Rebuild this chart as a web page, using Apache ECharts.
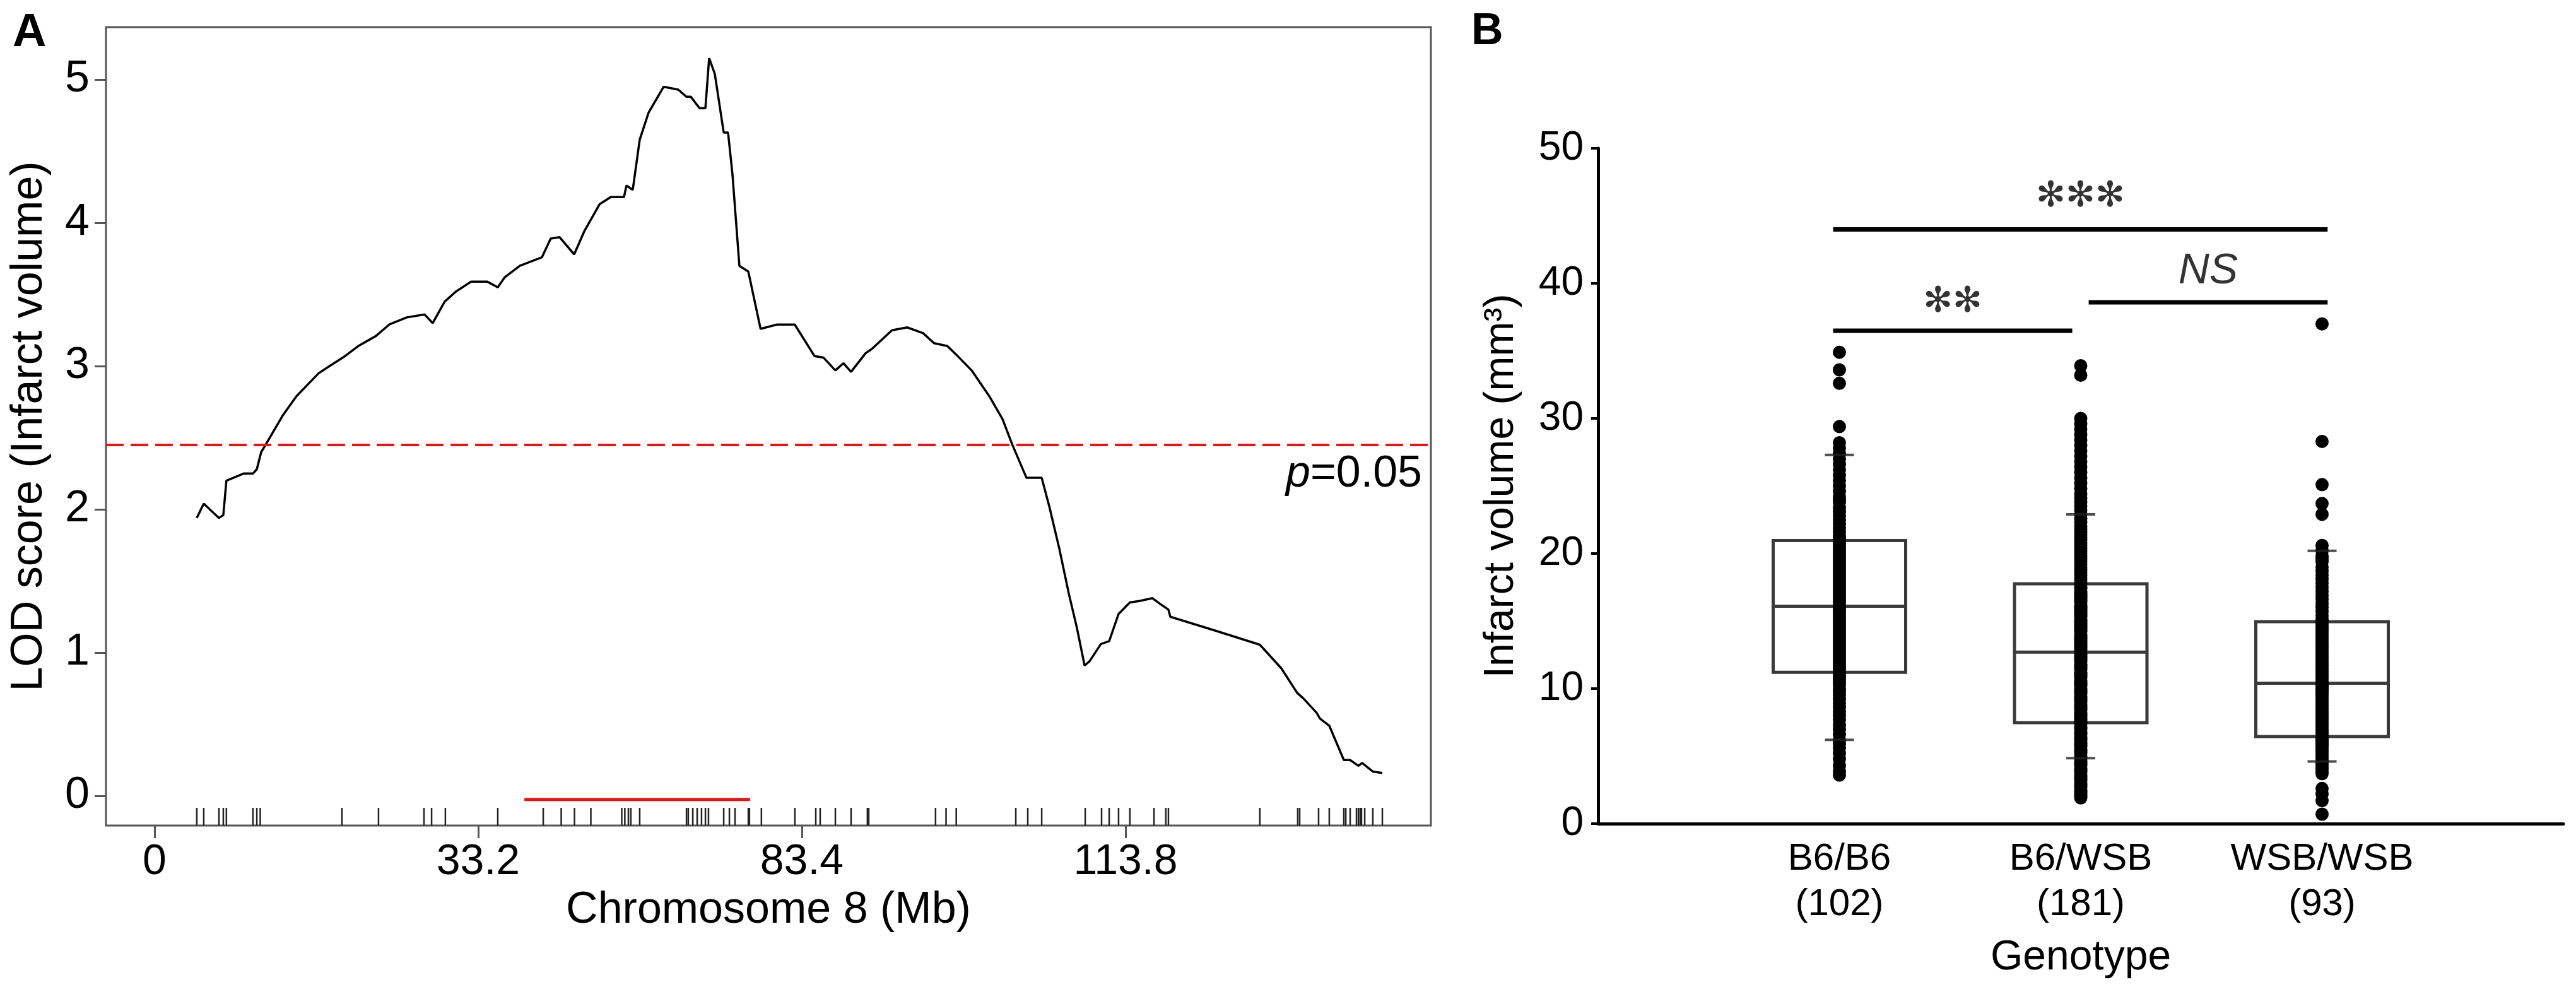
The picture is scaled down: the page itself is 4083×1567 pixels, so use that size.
<!DOCTYPE html>
<html>
<head>
  <meta charset="utf-8" />
  <title>LOD and infarct volume</title>
  <script src="https://cdn.jsdelivr.net/npm/echarts@6/dist/echarts.min.js"></script>
  <style>
    html, body { margin: 0; padding: 0; background: #fff; }
    #main { width: 4083px; height: 1567px; }
  </style>
</head>
<body>
  <div id="main"></div>
  <script type="text/javascript">
    // ---- Panel A: LOD scan on chromosome 8 (x in map units, labelled in Mb) ----
    const lodPos = [2.61, 3.04, 3.98, 4.25, 4.44, 5.50, 6.08, 6.32, 6.59, 6.86, 7.95, 8.77, 10.14, 10.68, 11.77, 12.59,
      13.68, 14.50, 15.59, 16.69, 17.19, 17.93, 18.62, 19.57, 20.55, 21.21, 21.64, 22.57, 23.94, 24.48, 25.03, 25.93,
      26.55, 27.50, 28.19, 29.01, 29.16, 29.55, 29.98, 30.53, 31.46, 32.36, 32.87, 33.14, 33.68, 34.04, 34.27, 34.62,
      35.17, 35.44, 35.71, 36.14, 36.69, 37.45, 38.46, 39.56, 40.78, 41.33, 42.07, 42.57, 43.04, 43.94, 44.33, 45.57,
      46.51, 47.49, 48.17, 48.99, 49.54, 50.49, 51.58, 52.40, 53.01, 53.88, 54.82, 55.29, 55.90, 56.49, 57.00, 57.47,
      57.78, 58.48, 58.99, 59.57, 60.27, 60.86, 61.66, 62.14, 62.65, 62.77, 65.65, 68.30, 69.63, 70.60, 70.99, 71.81,
      72.01, 72.59, 73.49, 73.88, 74.39, 74.62, 75.28, 75.87];
    const lodVal = [1.94, 2.04, 1.94, 1.96, 2.20, 2.25, 2.25, 2.28, 2.40, 2.45, 2.66, 2.79, 2.95, 2.99, 3.07, 3.14,
      3.21, 3.29, 3.34, 3.36, 3.30, 3.45, 3.52, 3.59, 3.59, 3.55, 3.62, 3.70, 3.76, 3.89, 3.90, 3.78,
      3.94, 4.13, 4.18, 4.18, 4.26, 4.23, 4.58, 4.77, 4.95, 4.93, 4.88, 4.88, 4.80, 4.80, 5.15, 5.04,
      4.63, 4.63, 4.34, 3.70, 3.66, 3.26, 3.29, 3.29, 3.07, 3.06, 2.97, 3.02, 2.96, 3.09, 3.12, 3.25,
      3.27, 3.23, 3.16, 3.14, 3.08, 2.97, 2.79, 2.63, 2.45, 2.22, 2.22, 2.02, 1.73, 1.415, 1.17, 0.91,
      0.94, 1.06, 1.08, 1.27, 1.35, 1.36, 1.38, 1.34, 1.30, 1.25, 1.15, 1.055, 0.89, 0.72, 0.68, 0.58,
      0.54, 0.49, 0.25, 0.25, 0.21, 0.23, 0.17, 0.16];
    const markerPos = [2.61, 3.04, 3.98, 4.25, 4.44, 6.08, 6.32, 6.53, 11.58, 13.84, 16.65, 17.12, 17.97, 21.21, 24.02,
      25.13, 25.95, 26.96, 28.87, 29.06, 29.28, 29.43, 29.98, 32.87, 32.98, 33.26, 33.53, 33.80, 34.04, 34.23, 35.17,
      35.52, 35.87, 36.69, 36.76, 37.50, 39.57, 40.86, 41.13, 42.07, 43.04, 44.05, 44.13, 48.26, 48.91, 49.54, 53.22,
      53.96, 54.82, 57.51, 58.52, 58.99, 59.57, 60.27, 61.76, 62.49, 62.65, 68.30, 70.64, 70.76, 71.93, 72.59, 73.49,
      73.61, 73.88, 74.27, 74.39, 74.50, 74.58, 74.78, 75.28, 75.87];
    const chrTickPos = [0, 20, 40, 60];
    const chrTickMb = ['0', '33.2', '83.4', '113.8'];
    const lodTicks = [0, 1, 2, 3, 4, 5];
    const threshold = 2.45;
    const ciRange = [22.85, 36.80];
    const ciLod = -0.025;

    // ---- Panel B: infarct volume by genotype ----
    const genotypes = ['B6/B6', 'B6/WSB', 'WSB/WSB'];
    const counts = [102, 181, 93];
    const boxQ1 = [11.2, 7.48, 6.45];
    const boxMed = [16.1, 12.7, 10.4];
    const boxQ3 = [20.96, 17.76, 14.95];
    const capLow = [6.2, 4.85, 4.6];
    const capHigh = [27.3, 22.9, 20.2];
    const volB6B6 = [3.6, 3.9, 4.3, 4.8, 5.2, 5.6, 5.9, 6.2, 6.6, 7.0, 7.3, 7.7, 8.0, 8.3, 8.6, 8.9, 9.2, 9.5, 9.8,
      10.0, 10.3, 10.5, 10.7, 10.9, 11.1, 11.2, 11.4, 11.6, 11.8, 12.0, 12.2, 12.4, 12.6, 12.8, 13.0, 13.2, 13.4, 13.6,
      13.8, 14.0, 14.2, 14.4, 14.6, 14.8, 15.0, 15.2, 15.4, 15.6, 15.8, 15.9, 16.0, 16.2, 16.4, 16.6, 16.8, 17.0, 17.2,
      17.4, 17.6, 17.8, 18.0, 18.2, 18.4, 18.6, 18.8, 19.0, 19.2, 19.4, 19.6, 19.8, 20.0, 20.2, 20.4, 20.6, 20.8, 21.0,
      21.1, 21.3, 21.6, 21.9, 22.2, 22.5, 22.8, 23.1, 23.4, 23.8, 24.0, 24.2, 24.6, 25.0, 25.4, 25.8, 26.2, 26.6, 27.0,
      27.4, 27.8, 28.2, 29.4, 32.6, 33.6, 34.9];
    const volB6WSB = [1.9, 2.0, 2.1, 2.2, 2.3, 2.4, 2.5, 2.7, 2.8, 2.9, 3.0, 3.2, 3.3, 3.4, 3.5, 3.6, 3.8, 3.9, 4.0,
      4.1, 4.3, 4.4, 4.5, 4.6, 4.8, 4.9, 5.0, 5.2, 5.3, 5.4, 5.5, 5.7, 5.8, 5.9, 6.0, 6.2, 6.3, 6.4, 6.6, 6.7, 6.8, 7.0,
      7.1, 7.2, 7.4, 7.5, 7.6, 7.7, 7.8, 7.9, 8.0, 8.1, 8.2, 8.4, 8.5, 8.6, 8.7, 8.8, 9.0, 9.1, 9.2, 9.3, 9.4, 9.6, 9.7,
      9.8, 9.9, 10.0, 10.2, 10.3, 10.4, 10.5, 10.6, 10.8, 10.9, 11.0, 11.1, 11.2, 11.4, 11.5, 11.6, 11.7, 11.8, 12.0,
      12.1, 12.2, 12.3, 12.4, 12.5, 12.6, 12.8, 12.9, 13.0, 13.1, 13.2, 13.3, 13.4, 13.5, 13.6, 13.7, 13.8, 13.9, 14.0,
      14.2, 14.3, 14.4, 14.5, 14.6, 14.7, 14.8, 14.9, 15.0, 15.1, 15.3, 15.4, 15.5, 15.6, 15.7, 15.8, 15.9, 16.0, 16.1,
      16.2, 16.4, 16.5, 16.6, 16.7, 16.8, 16.9, 17.0, 17.1, 17.2, 17.4, 17.5, 17.7, 17.8, 18.0, 18.2, 18.4, 18.6, 18.8,
      19.0, 19.2, 19.4, 19.6, 19.8, 20.0, 20.2, 20.4, 20.6, 20.8, 21.0, 21.2, 21.4, 21.6, 21.8, 22.0, 22.3, 22.6, 22.9,
      23.2, 23.5, 23.8, 24.1, 24.4, 24.8, 25.2, 25.6, 26.0, 26.4, 26.8, 27.2, 27.6, 28.0, 28.4, 28.8, 29.2, 29.6, 30.0,
      33.2, 33.9];
    const volWSBWSB = [0.7, 1.7, 2.2, 2.6, 3.7, 3.9, 4.1, 4.3, 4.5, 4.7, 4.9, 5.1, 5.3, 5.5, 5.7, 5.8, 5.9, 6.0, 6.1,
      6.2, 6.3, 6.4, 6.5, 6.7, 6.9, 7.1, 7.3, 7.5, 7.7, 7.9, 8.1, 8.3, 8.5, 8.7, 8.9, 9.1, 9.3, 9.5, 9.7, 9.8, 9.9, 10.0,
      10.1, 10.2, 10.3, 10.5, 10.7, 10.9, 11.1, 11.3, 11.5, 11.7, 11.9, 12.1, 12.3, 12.5, 12.7, 12.9, 13.1, 13.3, 13.5,
      13.7, 13.9, 14.1, 14.3, 14.5, 14.7, 14.9, 15.0, 15.1, 15.4, 15.7, 16.0, 16.3, 16.6, 16.9, 17.2, 17.5, 17.8, 18.1,
      18.4, 18.7, 19.0, 19.4, 19.6, 19.8, 20.2, 20.6, 22.9, 23.7, 25.1, 28.3, 37.0];
    const sigFrom = [0.974, 2.033, 0.974];
    const sigTo = [1.965, 3.023, 3.023];
    const sigY = [36.5, 38.6, 44.0];
    const sigText = ['\u273B\u273B', 'NS', '\u273B\u273B\u273B'];
    const sigTextY = [38.6, 40.9, 46.4];

    const FONT = 'Liberation Sans, Arial, sans-serif';
    const chart = echarts.init(document.getElementById('main'), null, { renderer: 'canvas' });

    const allVols = [volB6B6, volB6WSB, volWSBWSB];
    const dotData = [];
    allVols.forEach((vals, i) => vals.forEach(v => dotData.push([i + 1, v])));

    const boxData = genotypes.map((g, i) => [i + 1, boxQ1[i], boxMed[i], boxQ3[i], capLow[i], capHigh[i]]);

    const sigSeries = sigFrom.map((f, i) => ({
      type: 'line',
      xAxisIndex: 1,
      yAxisIndex: 1,
      data: [[f, sigY[i]], [sigTo[i], sigY[i]]],
      symbol: 'none',
      silent: true,
      lineStyle: { color: '#000', width: 7 },
      z: 5
    }));

    const option = {
      backgroundColor: '#fff',
      animation: false,
      textStyle: { fontFamily: FONT },
      graphic: [
        { type: 'text', left: 20, top: 16, style: { text: 'A', font: 'bold 74px ' + FONT, fill: '#000' } },
        { type: 'text', left: 2332, top: 16, style: { text: 'B', font: 'bold 70px ' + FONT, fill: '#000' } }
      ],
      grid: [
        { left: 168, top: 43, width: 2100, height: 1265, show: true, borderColor: '#555', borderWidth: 3, containLabel: false },
        { left: 2533, top: 235, width: 1530, height: 1070, containLabel: false }
      ],
      xAxis: [
        {
          type: 'value', gridIndex: 0, min: -3, max: 78.87,
          name: 'Chromosome 8 (Mb)', nameLocation: 'middle', nameGap: 100,
          nameTextStyle: { fontSize: 70, color: '#000', fontFamily: FONT },
          axisLine: { show: false, onZero: false },
          axisTick: { show: true, customValues: chrTickPos, length: 20, lineStyle: { color: '#555', width: 3 } },
          axisLabel: {
            customValues: chrTickPos, fontSize: 68, color: '#000', margin: 24,
            formatter: v => chrTickMb[chrTickPos.indexOf(v)]
          },
          splitLine: { show: false }
        },
        {
          type: 'value', gridIndex: 1, min: 0, max: 4,
          name: 'Genotype', nameLocation: 'middle', nameGap: 180,
          nameTextStyle: { fontSize: 66, color: '#000', fontFamily: FONT },
          axisLine: { show: true, onZero: false, lineStyle: { color: '#000', width: 5 } },
          axisTick: { show: false },
          axisLabel: {
            customValues: [1, 2, 3], fontSize: 60, lineHeight: 72, color: '#000', margin: 20,
            formatter: v => genotypes[v - 1] + '\n(' + counts[v - 1] + ')'
          },
          splitLine: { show: false }
        }
      ],
      yAxis: [
        {
          type: 'value', gridIndex: 0, min: -0.207, max: 5.366,
          name: 'LOD score (Infarct volume)', nameLocation: 'middle', nameGap: 86,
          nameTextStyle: { fontSize: 70, color: '#000', fontFamily: FONT },
          axisLine: { show: false, onZero: false },
          axisTick: { show: true, customValues: lodTicks, length: 18, lineStyle: { color: '#555', width: 3 } },
          axisLabel: { customValues: lodTicks, fontSize: 70, color: '#000', margin: 26 },
          splitLine: { show: false }
        },
        {
          type: 'value', gridIndex: 1, min: 0, max: 50, interval: 10,
          name: 'Infarct volume (mm\u00B3)', nameLocation: 'middle', nameGap: 120,
          nameTextStyle: { fontSize: 66, color: '#000', fontFamily: FONT },
          axisLine: { show: true, onZero: false, lineStyle: { color: '#000', width: 5 } },
          axisTick: { show: true, length: 11, lineStyle: { color: '#000', width: 4 } },
          axisLabel: { fontSize: 64, color: '#000', margin: 23 },
          splitLine: { show: false }
        }
      ],
      series: [
        {
          name: 'LOD',
          type: 'line',
          xAxisIndex: 0,
          yAxisIndex: 0,
          data: lodPos.map((p, i) => [p, lodVal[i]]),
          symbol: 'none',
          silent: true,
          lineStyle: { color: '#000', width: 3.5 },
          z: 4,
          markLine: {
            silent: true,
            symbol: ['none', 'none'],
            lineStyle: { color: '#f01010', type: [28, 11], width: 4 },
            label: {
              show: true,
              position: 'insideEndBottom',
              distance: [14, 12],
              formatter: '{i|p}=0.05',
              fontSize: 70,
              color: '#000',
              fontFamily: FONT,
              rich: { i: { fontStyle: 'italic', fontSize: 70, fontFamily: FONT, color: '#000' } }
            },
            data: [{ yAxis: threshold }]
          }
        },
        {
          name: 'CI',
          type: 'line',
          xAxisIndex: 0,
          yAxisIndex: 0,
          data: [[ciRange[0], ciLod], [ciRange[1], ciLod]],
          symbol: 'none',
          silent: true,
          lineStyle: { color: '#f01010', width: 5 },
          z: 4
        },
        {
          name: 'Markers',
          type: 'custom',
          xAxisIndex: 0,
          yAxisIndex: 0,
          silent: true,
          data: markerPos.map(p => [p]),
          renderItem: function (params, api) {
            const pt = api.coord([api.value(0), -0.207]);
            return {
              type: 'line',
              shape: { x1: pt[0], y1: pt[1], x2: pt[0], y2: pt[1] - 28 },
              style: { stroke: '#222', lineWidth: 2.5 }
            };
          },
          z: 3
        },
        {
          name: 'Boxes',
          type: 'custom',
          xAxisIndex: 1,
          yAxisIndex: 1,
          silent: true,
          data: boxData,
          renderItem: function (params, api) {
            const x = api.value(0);
            const top = api.coord([x, api.value(3)]);
            const bot = api.coord([x, api.value(1)]);
            const med = api.coord([x, api.value(2)]);
            const half = 105;
            const st = { stroke: '#3a3a3a', lineWidth: 5, fill: null };
            return {
              type: 'group',
              children: [
                { type: 'rect', shape: { x: top[0] - half, y: top[1], width: half * 2, height: bot[1] - top[1] }, style: st },
                { type: 'line', shape: { x1: med[0] - half, y1: med[1], x2: med[0] + half, y2: med[1] }, style: st }
              ]
            };
          },
          z: 2
        },
        {
          name: 'Dots',
          type: 'scatter',
          xAxisIndex: 1,
          yAxisIndex: 1,
          silent: true,
          data: dotData,
          symbol: 'circle',
          symbolSize: 21,
          itemStyle: { color: '#000', opacity: 1 },
          z: 3
        },
        {
          name: 'Caps',
          type: 'scatter',
          xAxisIndex: 1,
          yAxisIndex: 1,
          silent: true,
          data: genotypes.map((g, i) => [i + 1, capHigh[i]]).concat(genotypes.map((g, i) => [i + 1, capLow[i]])),
          symbol: 'rect',
          symbolSize: [46, 4],
          itemStyle: { color: '#222' },
          z: 4
        },
        ...sigSeries,
        {
          name: 'SigText',
          type: 'scatter',
          xAxisIndex: 1,
          yAxisIndex: 1,
          silent: true,
          symbolSize: 0,
          data: sigText.map((t, i) => ({
            value: [(sigFrom[i] + sigTo[i]) / 2, sigTextY[i]],
            label: t === 'NS'
              ? { fontStyle: 'italic', fontSize: 68, fontFamily: FONT }
              : { fontSize: 56, fontFamily: 'DejaVu Sans', letterSpacing: 6 }
          })),
          label: {
            show: true,
            position: 'inside',
            color: '#000',
            formatter: p => sigText[p.dataIndex]
          },
          z: 6
        }
      ]
    };

    chart.setOption(option);
  </script>
</body>
</html>
